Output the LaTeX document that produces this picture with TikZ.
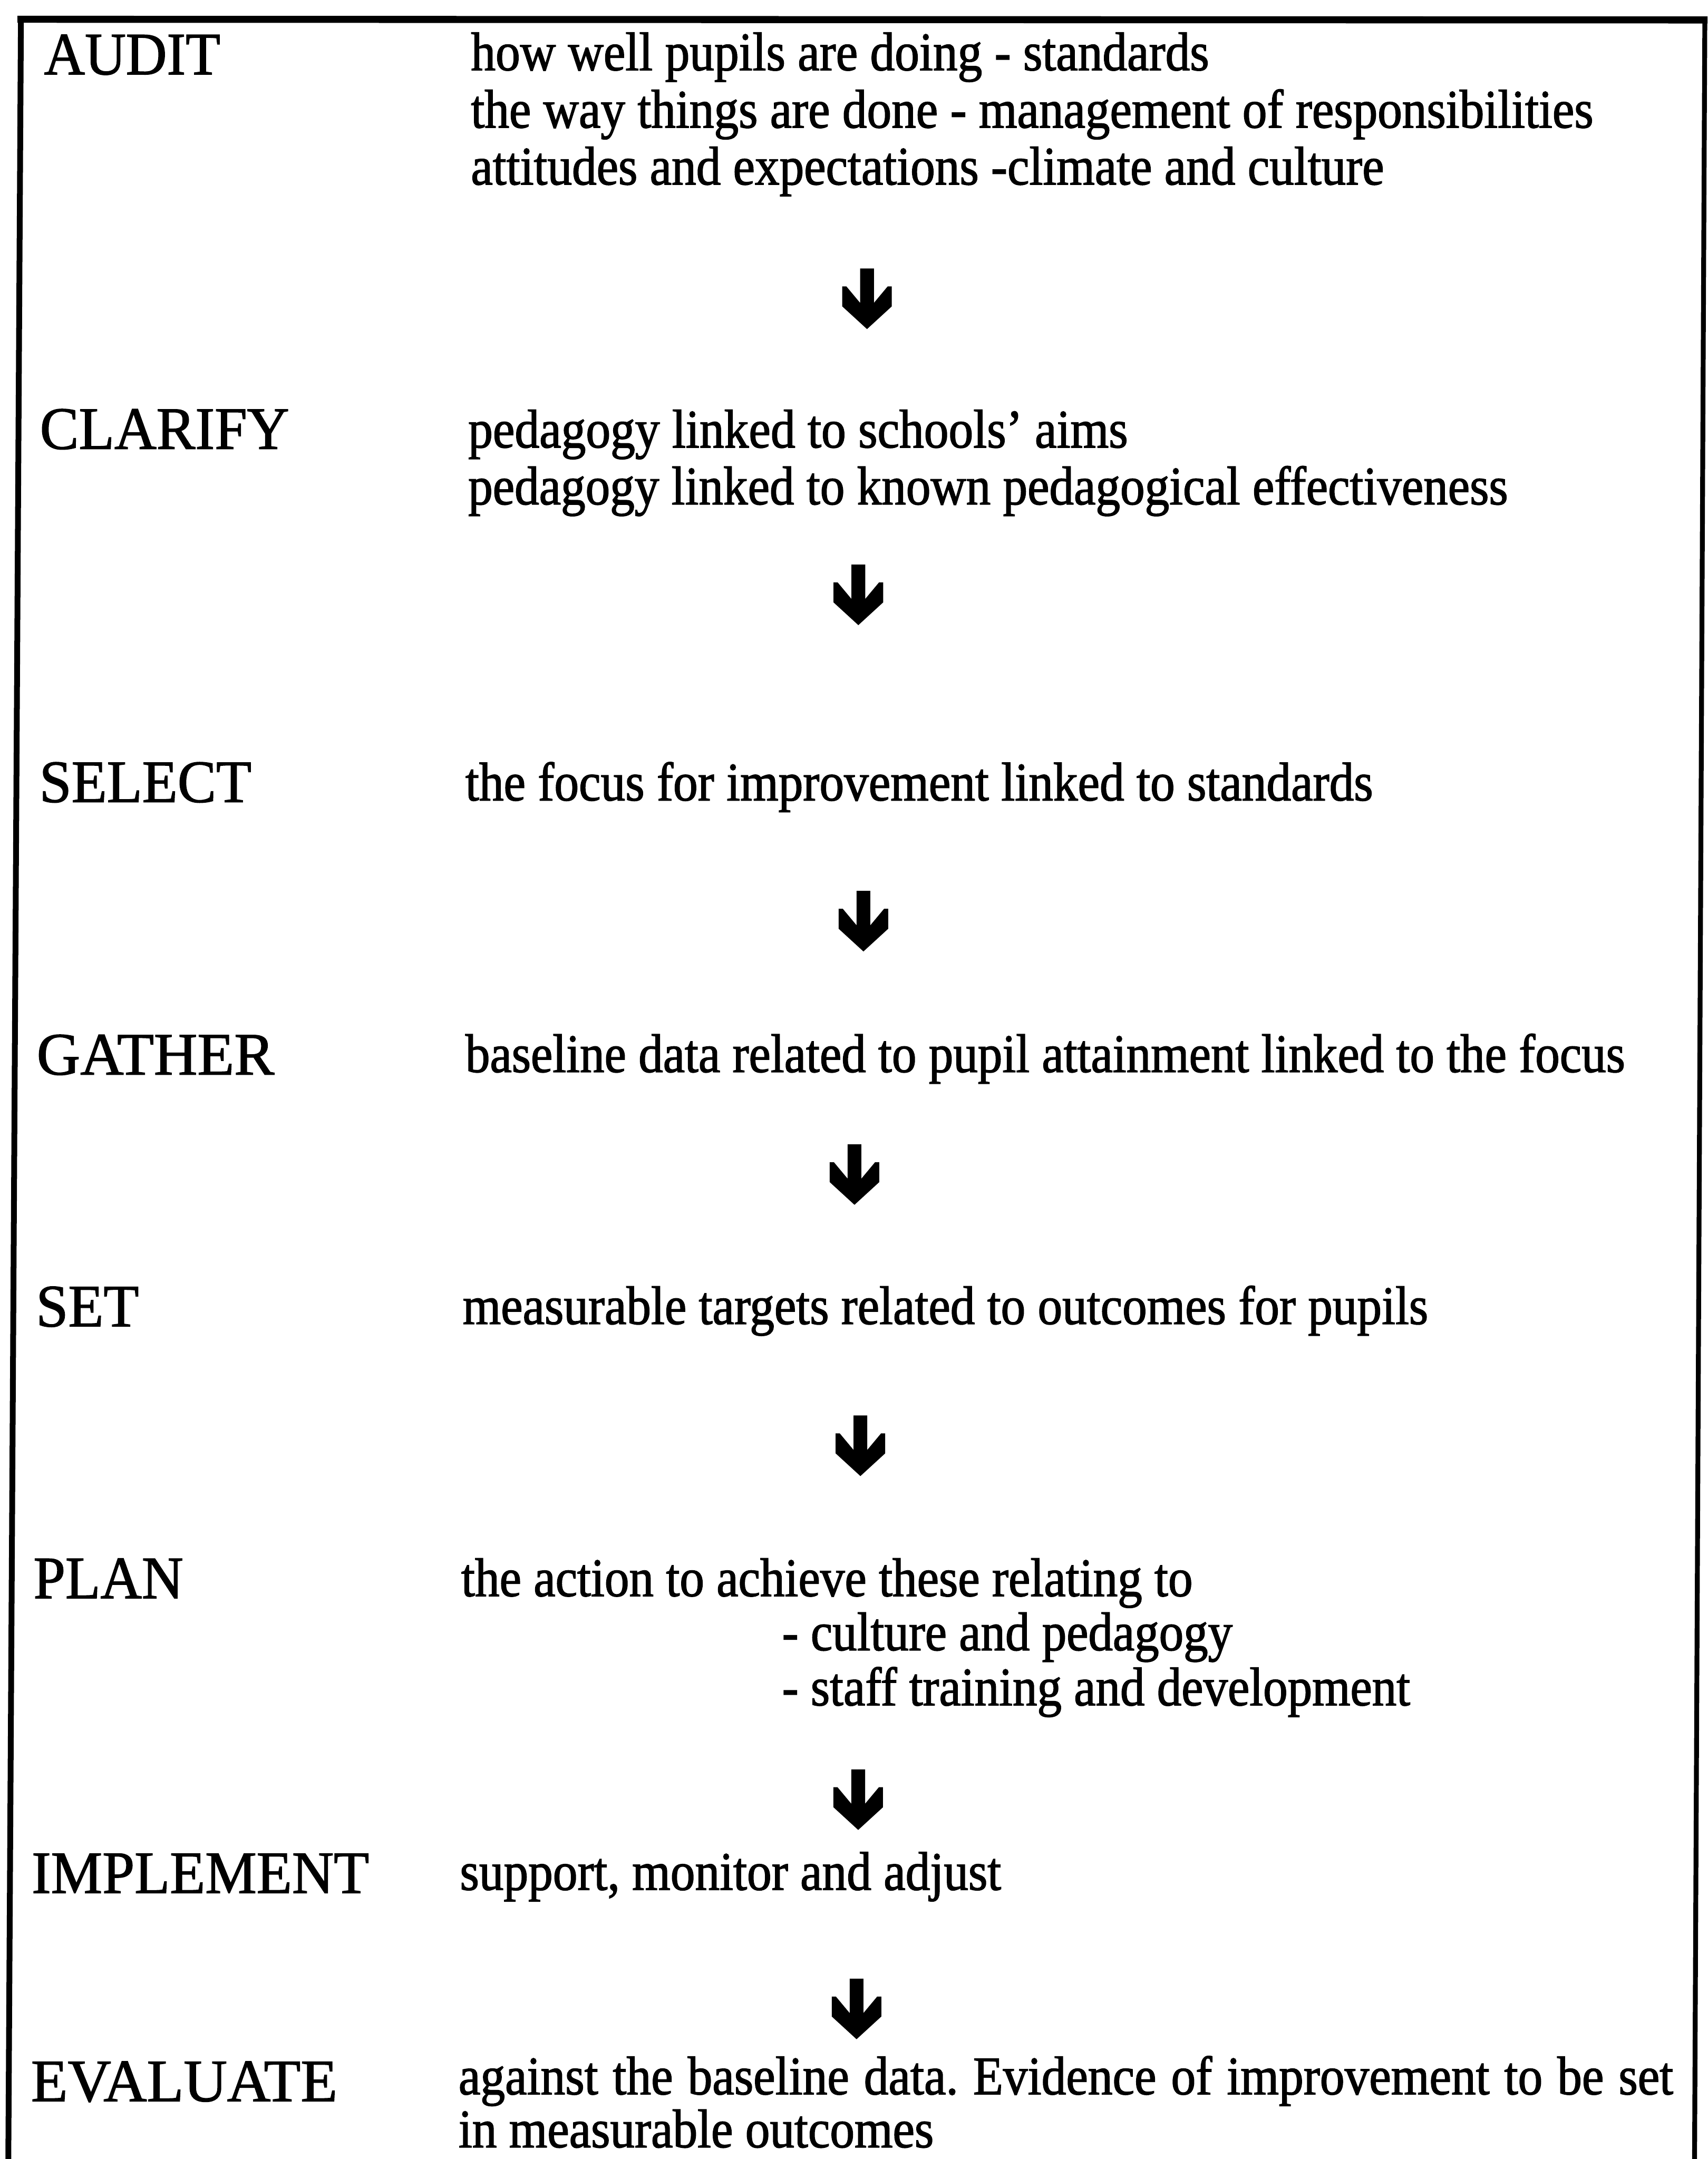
\documentclass[tikz,border=0pt]{standalone}
\usepackage{fontspec}
\usepackage{graphicx}
\newfontfamily\bodyfont[FakeStretch=0.905,FakeBold=1.5]{Liberation Serif}
\newfontfamily\labelfont[FakeStretch=0.95,FakeBold=1.3]{Liberation Serif}
\newlength\pxu
\setlength\pxu{0.02cm}
\newcommand\fitw[2]{\resizebox{#1\pxu}{\height}{#2}}
\tikzset{
  steplabel/.style={anchor=base west, inner sep=0pt, outer sep=0pt,
    font=\labelfont\fontsize{24.9pt}{26pt}\selectfont},
  bodyline/.style={anchor=base west, inner sep=0pt, outer sep=0pt,
    font=\bodyfont\fontsize{22.5pt}{24pt}\selectfont\frenchspacing},
  frameedge/.style={draw=black, line cap=rect},
  flowarrow/.pic={
    \fill[black] (-5,0) -- (5,0) -- (5,25) -- (15,13) -- (18,13) -- (18,27.5)
      -- (0,44) -- (-18,27.5) -- (-18,13) -- (-15,13) -- (-5,25) -- cycle;
  }
}
\begin{document}
\begin{tikzpicture}[x=0.02cm,y=-0.02cm]
\useasboundingbox (0,0) rectangle (1240,1568);
\clip (0,0) rectangle (1240,1568);
\fill[white] (0,0) rectangle (1240,1568);

% frame (slightly skewed, as scanned)
\coordinate (tl) at (15.2,14);
\coordinate (tr) at (1238,14.5);
\coordinate (br) at (1230.5,1575);
\coordinate (bl) at (6,1575);
\draw[frameedge, line width=2.4pt] (bl) -- (tl);
\draw[frameedge, line width=2.9pt] (tl) -- (tr);
\draw[frameedge, line width=2pt] (tr) -- (br);

% step labels
\node[steplabel] (audit)     at (32,54)      {\fitw{128}{AUDIT}};
\node[steplabel] (clarify)   at (29,326)     {\fitw{181}{CLARIFY}};
\node[steplabel] (select)    at (28.6,582.5) {\fitw{154}{SELECT}};
\node[steplabel] (gather)    at (26.7,780.4) {\fitw{172.5}{GATHER}};
\node[steplabel] (setstep)   at (26.2,963.3) {\fitw{74.6}{SET}};
\node[steplabel] (plan)      at (24.3,1160.7){\fitw{108.8}{PLAN}};
\node[steplabel] (implement) at (23,1374.8)  {\fitw{245}{IMPLEMENT}};
\node[steplabel] (evaluate)  at (22.5,1526)  {\fitw{222.5}{EVALUATE}};

% descriptions
\node[bodyline] (a1) at (342,51)     {\fitw{536}{how well pupils are doing - standards}};
\node[bodyline] (a2) at (342,92.7)   {\fitw{815}{the way things are done - management of responsibilities}};
\node[bodyline] (a3) at (342,134)    {\fitw{663}{attitudes and expectations -climate and culture}};
\node[bodyline] (c1) at (340,325)    {\fitw{479}{pedagogy linked to schools’ aims}};
\node[bodyline] (c2) at (340,366.3)  {\fitw{755}{pedagogy linked to known pedagogical effectiveness}};
\node[bodyline] (s1) at (338,581.3)  {\fitw{659}{the focus for improvement linked to standards}};
\node[bodyline] (g1) at (338,778.6)  {\fitw{842}{baseline data related to pupil attainment linked to the focus}};
\node[bodyline] (t1) at (336,961.6)  {\fitw{701}{measurable targets related to outcomes for pupils}};
\node[bodyline] (p1) at (335,1159.2) {\fitw{531}{the action to achieve these relating to}};
\node[bodyline] (p2) at (568,1198.5) {\fitw{327}{- culture and pedagogy}};
\node[bodyline] (p3) at (568,1238.5) {\fitw{456}{- staff training and development}};
\node[bodyline] (i1) at (334,1372.5) {\fitw{393}{support, monitor and adjust}};
\node[bodyline] (e1) at (333,1521)   {\makebox[882\pxu][s]{against the baseline data. Evidence of improvement to be set}};
\node[bodyline] (e2) at (333,1559.5) {\fitw{345}{in measurable outcomes}};

% flow arrows
\pic (arr1) at (629.6,195)  {flowarrow};
\pic (arr2) at (623.3,410)  {flowarrow};
\pic (arr3) at (627,647)    {flowarrow};
\pic (arr4) at (620.5,831)  {flowarrow};
\pic (arr5) at (624.8,1028) {flowarrow};
\pic (arr6) at (623.2,1285) {flowarrow};
\pic (arr7) at (622,1437)   {flowarrow};
\end{tikzpicture}
\end{document}
